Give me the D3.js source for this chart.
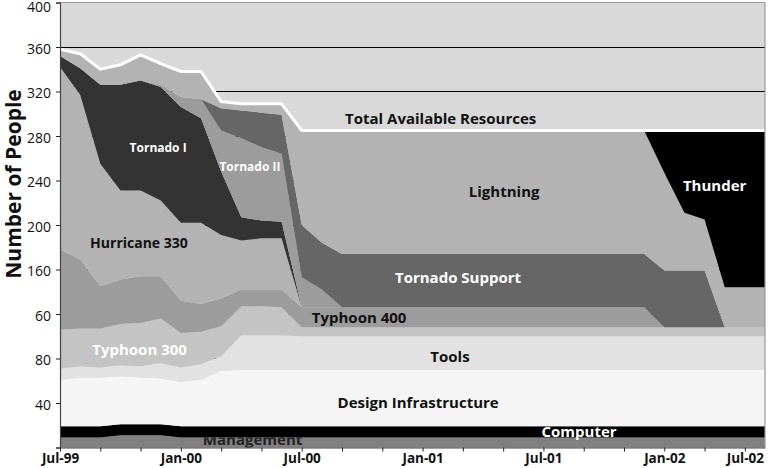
<!DOCTYPE html>
<html>
<head>
<meta charset="utf-8">
<script src="https://cdn.jsdelivr.net/npm/d3@7/dist/d3.min.js"></script>
<style>
  body { margin: 0; background: #fff; }
  svg { display: block; }
  text { font-family: 'Open Sans', 'DejaVu Sans', sans-serif; }
</style>
</head>
<body>
<svg id="chart"></svg>
<script>
// Head count per project, one value per month starting Jul-99 (36 months)
var management = [9, 9, 9, 11, 11, 11, 9, 9, 9, 9, 9, 9,
  9, 9, 9, 9, 9, 9, 9, 9, 9, 9, 9, 9, 9, 9, 9, 9, 9, 9, 9, 9, 9, 9, 9, 9];
var computer = [10, 10, 10, 10, 10, 10, 10, 10, 10, 10, 10, 10,
  10, 10, 10, 10, 10, 10, 10, 10, 10, 10, 10, 10, 10, 10, 10, 10, 10, 10, 10, 10, 10, 10, 10, 10];
var designInfrastructure = [42, 44, 44, 43, 42, 41, 40, 42, 50, 51, 51, 51,
  51, 51, 51, 51, 51, 51, 51, 51, 51, 51, 51, 51, 51, 51, 51, 51, 51, 51, 51, 51, 51, 51, 51, 51];
var tools = [10, 10, 9, 10, 10, 14, 13, 14, 13, 31, 31, 31,
  30, 30, 30, 30, 30, 30, 30, 30, 30, 30, 30, 30, 30, 30, 30, 30, 30, 30, 30, 30, 30, 30, 30, 30];
var typhoon300 = [35, 34, 35, 37, 39, 40, 31, 29, 27, 26, 26, 25,
  8, 8, 8, 8, 8, 8, 8, 8, 8, 8, 8, 8, 8, 8, 8, 8, 8, 8, 8, 8, 8, 8, 8, 8];
var typhoon400 = [72, 62, 38, 40, 42, 38, 29, 25, 25, 15, 15, 16,
  18, 18, 18, 18, 18, 18, 18, 18, 18, 18, 18, 18, 18, 18, 18, 18, 18, 18, 0, 0, 0, 0, 0, 0];
var hurricane330 = [164, 148, 110, 80, 77, 68, 70, 73, 57, 44, 46, 46,
  0, 0, 0, 0, 0, 0, 0, 0, 0, 0, 0, 0, 0, 0, 0, 0, 0, 0, 0, 0, 0, 0, 0, 0];
var tornado1 = [10, 24, 71, 95, 99, 102, 104, 94, 57, 21, 16, 15,
  0, 0, 0, 0, 0, 0, 0, 0, 0, 0, 0, 0, 0, 0, 0, 0, 0, 0, 0, 0, 0, 0, 0, 0];
var tornado2 = [0, 0, 0, 0, 0, 2, 9, 17, 37, 71, 66, 61,
  27, 16, 0, 0, 0, 0, 0, 0, 0, 0, 0, 0, 0, 0, 0, 0, 0, 0, 0, 0, 0, 0, 0, 0];
var tornadoSupport = [0, 0, 0, 0, 0, 0, 0, 0, 20, 25, 31, 35,
  47, 42, 48, 48, 48, 48, 48, 48, 48, 48, 48, 48, 48, 48, 48, 48, 48, 48, 51, 51, 51, 0, 0, 0];
var lightning = [6, 13, 14, 18, 23, 19, 23, 25, 6, 6, 8, 10,
  85, 101, 111, 111, 111, 111, 111, 111, 111, 111, 111, 111, 111, 111, 111, 111, 111, 111, 88, 52, 46, 36, 36, 36];
var thunder = [0, 0, 0, 0, 0, 0, 0, 0, 0, 0, 0, 0,
  0, 0, 0, 0, 0, 0, 0, 0, 0, 0, 0, 0, 0, 0, 0, 0, 0, 0, 38, 74, 80, 141, 141, 141];

// stacked bottom to top
var seriesNames = ['Management', 'Computer', 'Design Infrastructure', 'Tools',
  'Typhoon 300', 'Typhoon 400', 'Hurricane 330', 'Tornado I', 'Tornado II',
  'Tornado Support', 'Lightning', 'Thunder'];
var seriesValues = [management, computer, designInfrastructure, tools,
  typhoon300, typhoon400, hurricane330, tornado1, tornado2,
  tornadoSupport, lightning, thunder];

var yTicks = [0, 40, 80, 120, 160, 200, 240, 280, 320, 360, 400];
var yTickLabels = ['', '40', '80', '60', '160', '200', '240', '280', '320', '360', '400'];
var xLabelMonths = [0, 6, 12, 18, 24, 30, 34];
var xLabelText = ['Jul-99', 'Jan-00', 'Jul-00', 'Jan-01', 'Jul-01', 'Jan-02', 'Jul-02'];

var colors = {
  'Management': '#808080',
  'Computer': '#000000',
  'Design Infrastructure': '#f5f5f5',
  'Tools': '#e2e2e2',
  'Typhoon 300': '#c4c4c4',
  'Typhoon 400': '#9c9c9c',
  'Hurricane 330': '#b3b3b3',
  'Tornado I': '#333333',
  'Tornado II': '#9c9c9c',
  'Tornado Support': '#666666',
  'Lightning': '#b3b3b3',
  'Thunder': '#000000'
};

var width = 775;
var height = 468;

var svg = d3.select('#chart')
  .attr('width', width)
  .attr('height', height);

var x = d3.scaleLinear().domain([0, 35]).range([60, 765]);
var y = d3.scaleLinear().domain([0, 400]).range([447.5, 2.5]);

// one row per month for d3.stack
var rows = management.map(function (d, i) {
  var row = { month: i };
  seriesNames.forEach(function (name, k) {
    row[name] = seriesValues[k][i];
  });
  return row;
});

var stacked = d3.stack().keys(seriesNames)(rows);

// plot background
svg.append('rect')
  .attr('x', x(0))
  .attr('y', y(400))
  .attr('width', x(35) - x(0))
  .attr('height', y(0) - y(400))
  .attr('fill', '#d9d9d9');

// gridlines (only the upper ones stay visible)
svg.append('g')
  .selectAll('line')
  .data(yTicks.filter(function (d) { return d > 0 && d < 400; }))
  .enter().append('line')
    .attr('x1', x(0))
    .attr('x2', x(35))
    .attr('y1', function (d) { return y(d); })
    .attr('y2', function (d) { return y(d); })
    .attr('stroke', '#000')
    .attr('stroke-width', 1)
    .attr('shape-rendering', 'crispEdges');

var area = d3.area()
  .x(function (d) { return x(d.data.month); })
  .y0(function (d) { return y(d[0]); })
  .y1(function (d) { return y(d[1]); });

svg.append('g')
  .selectAll('path')
  .data(stacked)
  .enter().append('path')
    .attr('fill', function (d) { return colors[d.key]; })
    .attr('d', area);

// Total Available Resources line along the top of the stack
var topLayer = stacked[stacked.length - 1];
var totalLine = d3.line()
  .x(function (d) { return x(d.data.month); })
  .y(function (d) { return y(d[1]); });

svg.append('path')
  .datum(topLayer)
  .attr('fill', 'none')
  .attr('stroke', '#fff')
  .attr('stroke-width', 3)
  .attr('stroke-linejoin', 'miter')
  .attr('d', totalLine);

// border
svg.append('path')
  .attr('d', 'M' + x(0) + ',' + y(400) + 'H' + x(35) + 'V' + y(0))
  .attr('fill', 'none')
  .attr('stroke', '#999')
  .attr('stroke-width', 1.2);

// axes
var yAxis = d3.axisLeft(y)
  .tickValues(yTicks)
  .tickSize(4)
  .tickPadding(5)
  .tickFormat(function (d, i) { return yTickLabels[i]; });

var gy = svg.append('g')
  .attr('transform', 'translate(' + x(0) + ',0)')
  .call(yAxis);
gy.select('.domain').attr('stroke', '#444').attr('stroke-width', 1.2);
gy.selectAll('.tick line').attr('stroke', '#222');
gy.selectAll('.tick text')
  .attr('font-family', "'Open Sans', sans-serif")
  .attr('font-size', 14)
  .attr('dy', function (d) { return d === 400 ? '0.62em' : '0.45em'; })
  .attr('fill', '#111');

var xAxis = d3.axisBottom(x)
  .tickValues(d3.range(0, 35, 2))
  .tickSize(4)
  .tickSizeOuter(0)
  .tickPadding(2)
  .tickFormat(function (d) {
    var k = xLabelMonths.indexOf(d);
    return k < 0 ? '' : xLabelText[k];
  });

var gx = svg.append('g')
  .attr('transform', 'translate(0,' + y(0) + ')')
  .call(xAxis);
gx.select('.domain').attr('stroke', '#444');
gx.selectAll('.tick line').attr('stroke', '#222');
gx.selectAll('.tick text')
  .attr('font-family', "'Open Sans', sans-serif")
  .attr('font-weight', 'bold')
  .attr('font-size', 13.5)
  .attr('fill', '#111');

svg.append('text')
  .attr('transform', 'translate(21,184) rotate(-90)')
  .attr('text-anchor', 'middle')
  .attr('font-size', 21)
  .attr('font-weight', 'bold')
  .attr('fill', '#111')
  .text('Number of People');

// series labels placed at (month, value)
var labels = [
  { text: 'Total Available Resources', m: 18.9, v: 290.8, size: 15, color: '#111' },
  { text: 'Lightning', m: 22.05, v: 225, size: 15, color: '#111' },
  { text: 'Thunder', m: 32.5, v: 230.6, size: 15, color: '#fff' },
  { text: 'Tornado I', m: 4.87, v: 265.6, size: 12, color: '#fff' },
  { text: 'Tornado II', m: 9.43, v: 248.5, size: 12, color: '#fff' },
  { text: 'Hurricane 330', m: 3.92, v: 179.3, size: 14, color: '#111' },
  { text: 'Tornado Support', m: 19.76, v: 147.9, size: 15, color: '#fff' },
  { text: 'Typhoon 400', m: 14.85, v: 111.9, size: 15, color: '#111' },
  { text: 'Tools', m: 19.36, v: 76.9, size: 15, color: '#111' },
  { text: 'Design Infrastructure', m: 17.78, v: 35.5, size: 15, color: '#111' },
  { text: 'Typhoon 300', m: 3.95, v: 83.1, size: 15, color: '#fff' },
  { text: 'Computer', m: 25.77, v: 9.4, size: 15, color: '#fff' },
  { text: 'Management', m: 9.56, v: 2.2, size: 15, color: '#222' }
];

// the Management label sits partly under the Computer band
svg.append('clipPath')
  .attr('id', 'mgmt-clip')
  .append('rect')
    .attr('x', x(0))
    .attr('y', y(management[20]))
    .attr('width', x(35) - x(0))
    .attr('height', y(0) - y(management[20]));

svg.append('g')
  .selectAll('text')
  .data(labels)
  .enter().append('text')
    .attr('x', function (d) { return x(d.m); })
    .attr('y', function (d) { return y(d.v); })
    .attr('text-anchor', 'middle')
    .attr('font-size', function (d) { return d.size; })
    .attr('font-weight', 'bold')
    .attr('fill', function (d) { return d.color; })
    .attr('clip-path', function (d) { return d.text === 'Management' ? 'url(#mgmt-clip)' : null; })
    .text(function (d) { return d.text; });
</script>
</body>
</html>
